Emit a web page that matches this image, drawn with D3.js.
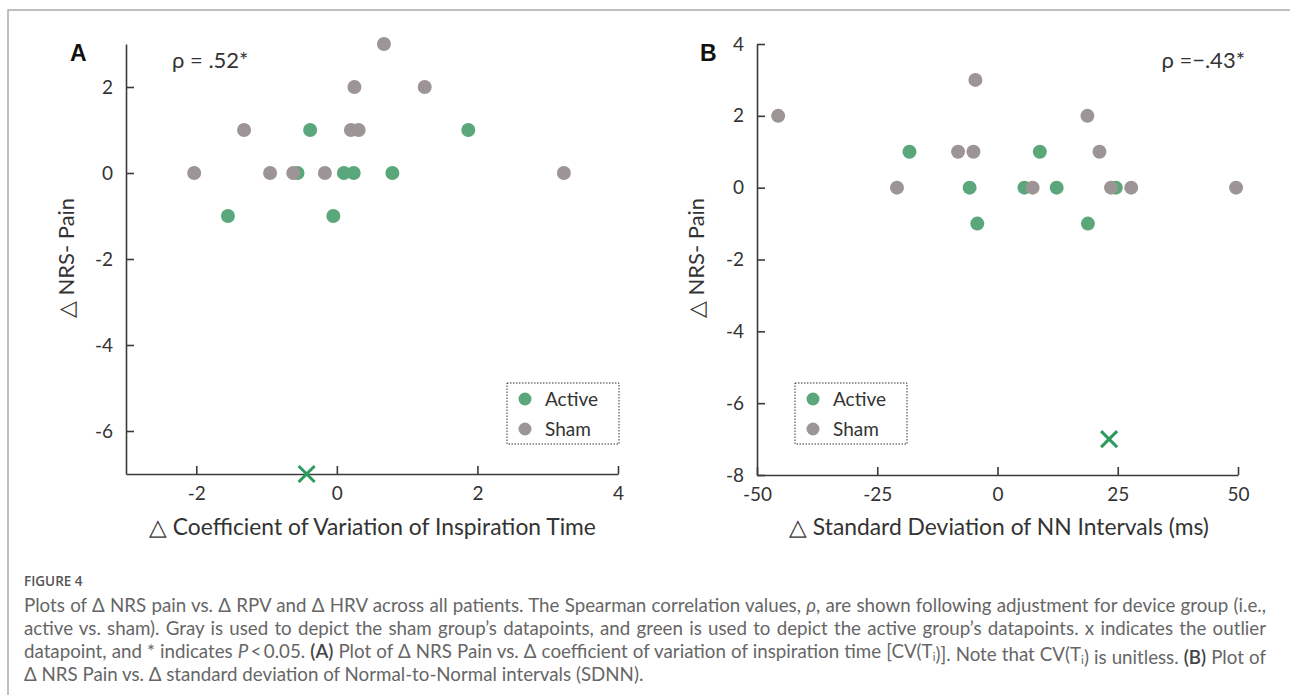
<!DOCTYPE html>
<html>
<head>
<meta charset="utf-8">
<script src="https://cdn.jsdelivr.net/npm/d3@7"></script>
<style>
  body { margin: 0; background: #fff; }
  svg text { font-family: Lato, "Open Sans", sans-serif; }
</style>
</head>
<body>
<svg id="fig" width="1290" height="695"></svg>
<script>
// panel A: change in CV of inspiration time vs change in NRS pain
var activeA = [[-0.38, 1], [1.87, 1], [-0.56, 0], [0.10, 0], [0.24, 0], [0.79, 0], [-1.55, -1], [-0.05, -1]];
var shamA = [[0.67, 3], [0.25, 2], [1.25, 2], [-1.32, 1], [0.20, 1], [0.31, 1],
             [-2.03, 0], [-0.95, 0], [-0.62, 0], [-0.17, 0], [3.23, 0]];
var outlierA = [[-0.43, -7]];
var xTicksA = [-2, 0, 2, 4];
var yTicksA = [-6, -4, -2, 0, 2];

// panel B: change in SDNN (ms) vs change in NRS pain
var activeB = [[-18.3, 1], [8.8, 1], [-5.8, 0], [5.6, 0], [12.3, 0], [24.6, 0], [-4.2, -1], [18.8, -1]];
var shamB = [[-45.6, 2], [-4.6, 3], [18.7, 2], [-8.2, 1], [-5.0, 1], [21.2, 1],
             [-20.9, 0], [7.3, 0], [23.6, 0], [27.8, 0], [49.6, 0]];
var outlierB = [[23.2, -7]];
var xTicksB = [-50, -25, 0, 25, 50];
var yTicksB = [-8, -6, -4, -2, 0, 2, 4];

var groups = ["Active", "Sham"];

var green = "#5ba77c", gray = "#9d9595", xGreen = "#2b9a5c", ink = "#3a3a3a";

var svg = d3.select("#fig");
svg.append("rect").attr("width", 1290).attr("height", 695).attr("fill", "#fff");

// frame
svg.append("path")
  .attr("d", "M8,695V10H1290")
  .attr("fill", "none")
  .attr("stroke", "#aaa")
  .attr("stroke-width", 1.5);

function drawPanel(opt) {
  var x = d3.scaleLinear().domain(opt.xDomain).range(opt.xRange),
      y = d3.scaleLinear().domain(opt.yDomain).range(opt.yRange);
  var g = svg.append("g");

  var xAxis = g.append("g")
    .attr("transform", "translate(0," + opt.yRange[0] + ")")
    .call(d3.axisBottom(x).tickValues(opt.xTicks).tickSizeInner(-8).tickSizeOuter(0)
      .tickPadding(13).tickFormat(function(d) { return String(d); }));

  var yAxis = g.append("g")
    .attr("transform", "translate(" + opt.xRange[0] + ",0)")
    .call(d3.axisLeft(y).tickValues(opt.yTicks).tickSizeInner(-8).tickSizeOuter(0)
      .tickPadding(13).tickFormat(function(d) { return String(d); }));

  [xAxis, yAxis].forEach(function(a) {
    a.select(".domain").attr("stroke", ink).attr("stroke-width", 1.6);
    a.selectAll(".tick line").attr("stroke", ink).attr("stroke-width", 1.6);
    a.selectAll(".tick text")
      .attr("fill", "#333")
      .style("font-size", "19px")
      .style("font-family", "Lato, sans-serif");
  });

  // x title, sized to span the same width as in the figure
  var xt = g.append("text")
    .attr("x", opt.xTitleSpan[0]).attr("y", 535)
    .attr("fill", "#333")
    .style("font-size", "23px")
    .text(opt.xTitle);
  var tw = xt.node().getComputedTextLength();
  xt.style("font-size", (23 * (opt.xTitleSpan[1] - opt.xTitleSpan[0]) / tw) + "px");

  g.append("text")
    .attr("transform", "translate(" + opt.yTitlePos[0] + "," + opt.yTitlePos[1] + ")rotate(-90)")
    .attr("text-anchor", "middle")
    .attr("fill", "#333")
    .style("font-size", "22px")
    .text("\u25B3 NRS- Pain");

  // panel letter and rho
  g.append("text")
    .attr("x", opt.letterPos[0]).attr("y", opt.letterPos[1])
    .attr("fill", "#111")
    .style("font-family", "'Liberation Sans', Arial, sans-serif")
    .style("font-weight", "bold")
    .style("font-size", "23px")
    .text(opt.letter);

  g.append("text")
    .attr("x", opt.rhoPos[0]).attr("y", opt.rhoPos[1])
    .attr("text-anchor", opt.rhoAnchor)
    .attr("fill", "#333")
    .style("font-size", "22px")
    .text(opt.rho);

  // points: active first, sham drawn over it
  g.selectAll(".active")
    .data(opt.active)
    .enter().append("circle")
    .attr("class", "active")
    .attr("cx", function(d) { return x(d[0]); })
    .attr("cy", function(d) { return y(d[1]); })
    .attr("r", 7)
    .attr("fill", green);

  g.selectAll(".sham")
    .data(opt.sham)
    .enter().append("circle")
    .attr("class", "sham")
    .attr("cx", function(d) { return x(d[0]); })
    .attr("cy", function(d) { return y(d[1]); })
    .attr("r", 7)
    .attr("fill", gray);

  // outlier
  var s = 8;
  g.selectAll(".outlier")
    .data(opt.outlier)
    .enter().append("path")
    .attr("class", "outlier")
    .attr("d", function(d) {
      var cx = x(d[0]), cy = y(d[1]);
      return "M" + (cx - s) + "," + (cy - s) + "L" + (cx + s) + "," + (cy + s) +
             "M" + (cx - s) + "," + (cy + s) + "L" + (cx + s) + "," + (cy - s);
    })
    .attr("stroke", xGreen)
    .attr("stroke-width", 3)
    .attr("fill", "none");

  // legend
  var lg = g.append("g").attr("transform", "translate(" + opt.legendPos[0] + "," + opt.legendPos[1] + ")");
  lg.append("rect")
    .attr("width", 112).attr("height", 61)
    .attr("fill", "none")
    .attr("stroke", "#333")
    .attr("stroke-width", 1)
    .attr("stroke-dasharray", "1.5,1.5");
  groups.forEach(function(name, i) {
    lg.append("circle")
      .attr("cx", 18).attr("cy", 16 + i * 30)
      .attr("r", 6.5)
      .attr("fill", i === 0 ? green : gray);
    lg.append("text")
      .attr("x", 38).attr("y", 16 + i * 30)
      .attr("dy", "0.35em")
      .attr("fill", "#333")
      .style("font-size", "19px")
      .text(name);
  });
}

drawPanel({
  xDomain: [-3, 4], xRange: [126, 618],
  yDomain: [-7, 3], yRange: [474, 44],
  xTicks: xTicksA, yTicks: yTicksA,
  active: activeA, sham: shamA, outlier: outlierA,
  xTitle: "\u25B3 Coefficient of Variation of Inspiration Time",
  xTitleSpan: [149, 596], yTitlePos: [74, 258],
  letter: "A", letterPos: [70, 61],
  rho: "\u03C1 = .52*", rhoPos: [172, 68], rhoAnchor: "start",
  legendPos: [507, 383]
});

drawPanel({
  xDomain: [-50, 50], xRange: [757, 1238],
  yDomain: [-8, 4], yRange: [475, 44],
  xTicks: xTicksB, yTicks: yTicksB,
  active: activeB, sham: shamB, outlier: outlierB,
  xTitle: "\u25B3 Standard Deviation of NN Intervals (ms)",
  xTitleSpan: [789, 1209], yTitlePos: [704, 258],
  letter: "B", letterPos: [700, 61],
  rho: "\u03C1 =\u2212.43*", rhoPos: [1245, 68], rhoAnchor: "end",
  legendPos: [795, 383]
});

// caption
var captionHead = "FIGURE 4";
var captionLines = [
  [["Plots of \u0394 NRS pain vs. \u0394 RPV and \u0394 HRV across all patients. The Spearman correlation values, "], ["\u03C1", "i"], [", are shown following adjustment for device group (i.e.,"]],
  [["active vs. sham). Gray is used to depict the sham group\u2019s datapoints, and green is used to depict the active group\u2019s datapoints. x indicates the outlier"]],
  [["datapoint, and * indicates "], ["P", "i"], ["\u2009<\u20090.05. "], ["(A)", "b"], [" Plot of \u0394 NRS Pain vs. \u0394 coefficient of variation of inspiration time [CV(T"], ["i", "sub"], [")]. Note that CV(T"], ["i", "sub"], [") is unitless. "], ["(B)", "b"], [" Plot of"]],
  [["\u0394 NRS Pain vs. \u0394 standard deviation of Normal-to-Normal intervals (SDNN)."]]
];

svg.append("text")
  .attr("x", 24).attr("y", 586)
  .attr("fill", "#555")
  .style("font-family", "'Open Sans', sans-serif")
  .style("font-size", "13.5px")
  .style("font-weight", "600")
  .text(captionHead);

var capLeft = 24, capRight = 1266;
var capText = svg.append("g")
  .attr("fill", "#666")
  .style("font-family", "'Open Sans', sans-serif")
  .style("font-size", "16px");

var rows = captionLines.map(function(line, i) {
  var t = capText.append("text")
    .attr("x", capLeft).attr("y", 612 + i * 23);
  line.forEach(function(seg) {
    var ts = t.append("tspan").text(seg[0]);
    if (seg[1] === "i") ts.style("font-style", "italic");
    if (seg[1] === "b") ts.attr("fill", "#444").style("font-weight", "600");
    if (seg[1] === "sub") {
      ts.attr("dy", 3).attr("class", "sub");
      t.append("tspan").attr("dy", -3).text("");
    }
  });
  return t;
});

// size the caption so the first line nearly fills the width, then justify
var fs = 16 * (capRight - capLeft - 12) / rows[0].node().getComputedTextLength();
capText.style("font-size", fs + "px");
capText.selectAll(".sub").style("font-size", (fs * 0.62) + "px");
rows.forEach(function(t, i) {
  if (i === rows.length - 1) return;
  var w = t.node().getComputedTextLength();
  var spaces = t.text().split(" ").length - 1;
  t.style("word-spacing", ((capRight - capLeft - w) / spaces) + "px");
});
</script>
</body>
</html>
